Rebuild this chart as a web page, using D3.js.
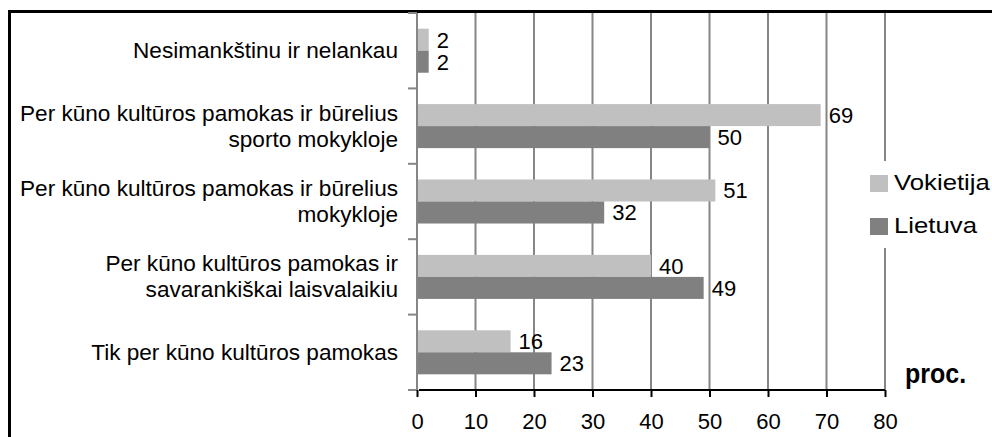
<!DOCTYPE html>
<html>
<head>
<meta charset="utf-8">
<script src="https://cdn.jsdelivr.net/npm/d3@7"></script>
<style>
  body { margin: 0; background: #fff; }
  svg { display: block; font-family: "Liberation Sans", Arial, sans-serif; }
</style>
</head>
<body>
<svg id="graph"></svg>
<script>
// Categories top to bottom (line breaks with \n)
var categories = [
  "Nesimankštinu ir nelankau",
  "Per kūno kultūros pamokas ir būrelius\nsporto mokykloje",
  "Per kūno kultūros pamokas ir būrelius\nmokykloje",
  "Per kūno kultūros pamokas ir\nsavarankiškai laisvalaikiu",
  "Tik per kūno kultūros pamokas"
];
var seriesNames = ["Vokietija", "Lietuva"];
var vokietija = [2, 69, 51, 40, 16];
var lietuva = [2, 50, 32, 49, 23];
var xTicks = [0, 10, 20, 30, 40, 50, 60, 70, 80];
var colors = ["#c0c0c0", "#808080"];

var W = 992, H = 437;
var margin = {top: 13, left: 417},
    width = 468,
    height = 377;

var root = d3.select("#graph").attr("width", W).attr("height", H);

// outer frame
root.append("rect")
  .attr("x", 9.5).attr("y", 11.5)
  .attr("width", W).attr("height", H)
  .attr("fill", "none").attr("stroke", "#000").attr("stroke-width", 3);

var svg = root.append("g")
  .attr("transform", "translate(" + margin.left + "," + margin.top + ")");

var xScale = d3.scaleLinear().domain([0, 80]).range([0, width]);

var yScale = d3.scaleBand()
  .domain(categories)
  .range([0, height])
  .paddingInner(0.416)
  .paddingOuter(0.208);

var ySub = d3.scaleBand().domain(seriesNames).range([0, yScale.bandwidth()]);

// vertical grid lines
svg.append("g")
  .selectAll("line")
  .data(xTicks.slice(1))
  .enter().append("line")
  .attr("x1", d => xScale(d)).attr("x2", d => xScale(d))
  .attr("y1", 0).attr("y2", height)
  .attr("stroke", "#868686").attr("stroke-width", 2);

// bars
var data = categories.map((c, i) => ({cat: c, values: [vokietija[i], lietuva[i]]}));

var groups = svg.selectAll(".cat")
  .data(data)
  .enter().append("g")
  .attr("class", "cat")
  .attr("transform", d => "translate(0," + yScale(d.cat) + ")");

groups.selectAll("rect")
  .data(d => d.values.map((v, j) => ({name: seriesNames[j], v: v, j: j})))
  .enter().append("rect")
  .attr("x", 0)
  .attr("y", d => ySub(d.name))
  .attr("width", d => xScale(d.v))
  .attr("height", ySub.bandwidth())
  .attr("fill", d => colors[d.j]);

groups.selectAll("text")
  .data(d => d.values.map((v, j) => ({name: seriesNames[j], v: v, j: j})))
  .enter().append("text")
  .attr("x", d => xScale(d.v) + 8)
  .attr("y", d => ySub(d.name) + ySub.bandwidth() / 2)
  .attr("dy", "0.36em")
  .attr("font-size", 22)
  .attr("fill", "#000")
  .text(d => d.v);

// left axis (gray) with ticks at band boundaries
var step = yScale.step();
svg.append("line")
  .attr("x1", 0).attr("x2", 0).attr("y1", 0).attr("y2", height)
  .attr("stroke", "#868686").attr("stroke-width", 2);
svg.append("g")
  .selectAll("line")
  .data(d3.range(categories.length + 1))
  .enter().append("line")
  .attr("x1", -9).attr("x2", 0)
  .attr("y1", i => i * step).attr("y2", i => i * step)
  .attr("stroke", "#868686").attr("stroke-width", 2);

// category labels
var labels = svg.append("g")
  .selectAll("text")
  .data(categories)
  .enter().append("text")
  .attr("text-anchor", "end")
  .attr("font-size", 22.6)
  .attr("fill", "#000");

labels.each(function(c) {
  var lines = c.split("\n");
  var cy = yScale(c) + yScale.bandwidth() / 2;
  var lh = 26;
  var t = d3.select(this);
  lines.forEach(function(line, k) {
    t.append("tspan")
      .attr("x", -19)
      .attr("y", cy + (k - (lines.length - 1) / 2) * lh)
      .attr("dy", "0.33em")
      .text(line);
  });
});

// bottom axis
var xAxis = svg.append("g")
  .attr("transform", "translate(0," + height + ")")
  .call(d3.axisBottom(xScale).tickValues(xTicks).tickSize(7).tickPadding(16))
  .call(g => g.select(".domain").attr("stroke", "#000").attr("stroke-width", 2).attr("d", "M2,0H" + width))
  .call(g => g.selectAll(".tick line").attr("stroke", "#000").attr("stroke-width", 2))
  .call(g => g.selectAll(".tick text")
      .attr("font-size", 22)
      .attr("font-family", "Liberation Sans, Arial, sans-serif")
      .attr("fill", "#000"));

// legend (text looks horizontally stretched in the original)
var legend = root.append("g");
legend.append("rect")
  .attr("x", 866).attr("y", 161).attr("width", 126).attr("height", 87)
  .attr("fill", "#fff");
var legendY = [175, 218];
seriesNames.forEach(function(name, j) {
  legend.append("rect")
    .attr("x", 870).attr("y", legendY[j])
    .attr("width", 18).attr("height", 17)
    .attr("fill", colors[j]);
  legend.append("text")
    .attr("transform", "translate(894," + (legendY[j] + 15) + ") scale(1.17,1)")
    .attr("font-size", 22)
    .attr("fill", "#000")
    .text(name);
});

// unit label
root.append("text")
  .attr("transform", "translate(905,383) scale(1,1.1)")
  .attr("font-size", 25)
  .attr("font-weight", "bold")
  .attr("fill", "#000")
  .text("proc.");
</script>
</body>
</html>
